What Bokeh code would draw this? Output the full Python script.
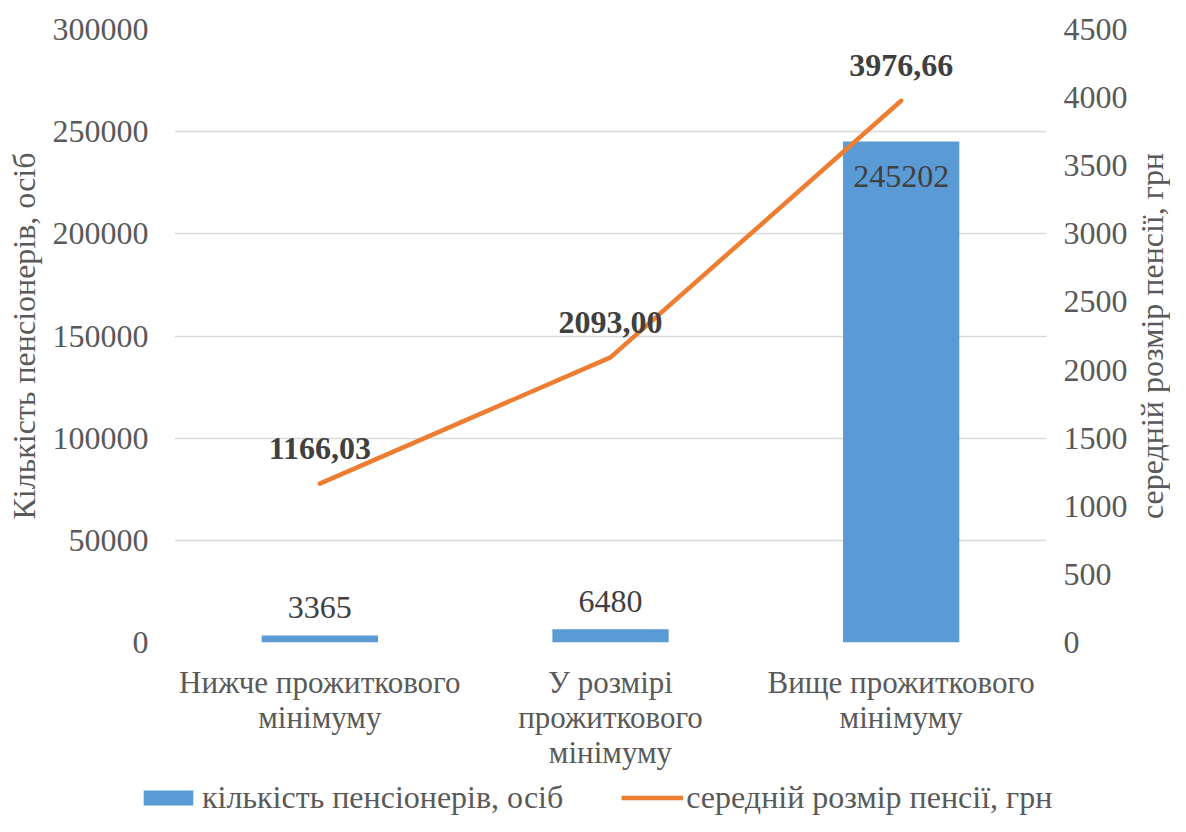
from bokeh.plotting import figure
from bokeh.layouts import column, row
from bokeh.models import (Range1d, FactorRange, LinearAxis, FixedTicker, Legend, LegendItem,
                          BasicTickFormatter)
from bokeh.embed import file_html
from bokeh.resources import INLINE
from bokeh.core.properties import value

# ---------------- data ----------------
categories = ["Нижче прожиткового\nмінімуму",
              "У розмірі\nпрожиткового\nмінімуму",
              "Вище прожиткового\nмінімуму"]
pensioners = [3365, 6480, 245202]
avg_pension = [1166.03, 2093.00, 3976.66]
left_ticks = [0, 50000, 100000, 150000, 200000, 250000, 300000]
right_ticks = [0, 500, 1000, 1500, 2000, 2500, 3000, 3500, 4000, 4500]
series_names = ["кількість пенсіонерів, осіб", "середній розмір пенсії, грн"]
left_title = "Кількість пенсіонерів, осіб"
right_title = "середній розмір пенсії, грн"

# ---------------- style ----------------
FONT = "Liberation Serif"
FS_NUM = "32px"
FS_TXT = "31px"
FS_TITLE = "32px"
BAR_COLOR = "#5B9BD5"
LINE_COLOR = "#ED7D31"
TICK_COLOR = "#595959"
LABEL_COLOR = "#404040"
bar_label_offsets = [-28, -28, 35]

W = 1170
W_TITLE = 40
W_MAIN = W - W_TITLE
H1, H2 = 776, 40
FRAME_TOP, FRAME_BOTTOM = 29, 642

p = figure(width=W_MAIN, height=H1, output_backend="svg", toolbar_location=None,
           x_range=FactorRange(factors=categories), y_range=Range1d(0, 300000))
p.min_border_left = 174
p.min_border_right = W_MAIN - 1048
p.min_border_top = FRAME_TOP
p.min_border_bottom = H1 - FRAME_BOTTOM
p.outline_line_color = None
p.background_fill_color = "white"
p.border_fill_color = "white"
p.frame_align = False
p.extra_y_ranges = {"right": Range1d(0, 4500)}

# grid
p.xgrid.grid_line_color = None
p.ygrid.ticker = FixedTicker(ticks=left_ticks)
p.ygrid.grid_line_color = "#D9D9D9"
p.ygrid.grid_line_width = 1.3

def style_axis(ax, standoff, fs):
    ax.axis_line_color = None
    ax.major_tick_line_color = None
    ax.minor_tick_line_color = None
    ax.major_tick_out = 0
    ax.major_tick_in = 0
    ax.major_label_text_font = FONT
    ax.major_label_text_font_size = fs
    ax.major_label_text_color = TICK_COLOR
    ax.major_label_standoff = standoff
    ax.axis_label_text_font = FONT
    ax.axis_label_text_font_size = FS_TITLE
    ax.axis_label_text_font_style = "normal"
    ax.axis_label_text_color = TICK_COLOR

ly = p.yaxis[0]
ly.ticker = FixedTicker(ticks=left_ticks)
ly.formatter = BasicTickFormatter(use_scientific=False)
style_axis(ly, 26, FS_NUM)
ly.axis_label = left_title
ly.axis_label_standoff = 8

ry = LinearAxis(y_range_name="right", ticker=FixedTicker(ticks=right_ticks),
                formatter=BasicTickFormatter(use_scientific=False))
style_axis(ry, 17, FS_NUM)
p.add_layout(ry, "right")

xa = p.xaxis[0]
style_axis(xa, 22, FS_TXT)
xa.major_label_orientation = "horizontal"
xa.major_label_text_line_height = 1.0

# bars
bars = p.vbar(x=categories, top=pensioners, width=0.4, fill_color=BAR_COLOR, line_color=None)
# line
line = p.line(x=categories, y=avg_pension, y_range_name="right", line_color=LINE_COLOR,
              line_width=4.5, line_cap="round", line_join="round")

# bar value labels
p.text(x=categories, y=pensioners, text=[str(v) for v in pensioners],
       y_offset=bar_label_offsets, text_align="center", text_baseline="middle",
       text_font=value(FONT), text_font_size=FS_NUM, text_color=LABEL_COLOR)

# line value labels (bold)
p.text(x=categories, y=avg_pension, y_range_name="right",
       text=[f"{v:.2f}".replace(".", ",") for v in avg_pension],
       y_offset=-35, text_align="center", text_baseline="middle",
       text_font=value(FONT), text_font_size=FS_NUM, text_font_style="bold",
       text_color=LABEL_COLOR)

# ---------------- right-hand axis title strip (reads bottom-to-top) ----------------
tf = figure(width=W_TITLE, height=H1, output_backend="svg", toolbar_location=None,
            x_range=Range1d(0, 1), y_range=Range1d(0, 4500))
tf.min_border_left = W_TITLE - 2
tf.min_border_right = 0
tf.min_border_top = FRAME_TOP
tf.min_border_bottom = H1 - FRAME_BOTTOM
tf.frame_align = False
tf.outline_line_color = None
tf.background_fill_color = "white"
tf.border_fill_color = "white"
tf.grid.visible = False
tf.xaxis.visible = False
ta = tf.yaxis[0]
ta.ticker = FixedTicker(ticks=[])
ta.axis_line_color = None
ta.major_tick_line_color = None
ta.minor_tick_line_color = None
ta.major_tick_out = 0
ta.major_tick_in = 0
ta.major_label_standoff = 0
ta.axis_label = right_title
ta.axis_label_standoff = 0
ta.axis_label_text_font = FONT
ta.axis_label_text_font_size = FS_TITLE
ta.axis_label_text_font_style = "normal"
ta.axis_label_text_color = TICK_COLOR

# ---------------- legend strip (separate figure; same series drawn outside its view) ----------------
lf = figure(width=W, height=H2, output_backend="svg", toolbar_location=None,
            x_range=FactorRange(factors=categories), y_range=Range1d(1e6, 2e6))
lf.min_border = 0
lf.min_border_left = 0
lf.min_border_right = 0
lf.min_border_top = 0
lf.min_border_bottom = 0
lf.frame_align = False
lf.axis.visible = False
lf.grid.visible = False
lf.outline_line_color = None
lf.background_fill_color = "white"
lf.border_fill_color = "white"
lbars = lf.vbar(x=categories, top=pensioners, width=0.4, fill_color=BAR_COLOR, line_color=None)
lline = lf.line(x=categories, y=avg_pension, line_color=LINE_COLOR, line_width=4.5)

legend = Legend(items=[LegendItem(label=series_names[0], renderers=[lbars]),
                       LegendItem(label=series_names[1], renderers=[lline])],
                orientation="horizontal", location=(137, 0),
                label_text_font=FONT, label_text_font_size=FS_TITLE, label_text_color=TICK_COLOR,
                glyph_width=62, glyph_height=19, label_standoff=3, spacing=58,
                padding=0, margin=0, border_line_color=None, background_fill_alpha=0)
lf.add_layout(legend, "center")

layout = column(row(p, tf, spacing=0), lf, spacing=0)
open("out.html", "w").write(file_html(layout, INLINE))
